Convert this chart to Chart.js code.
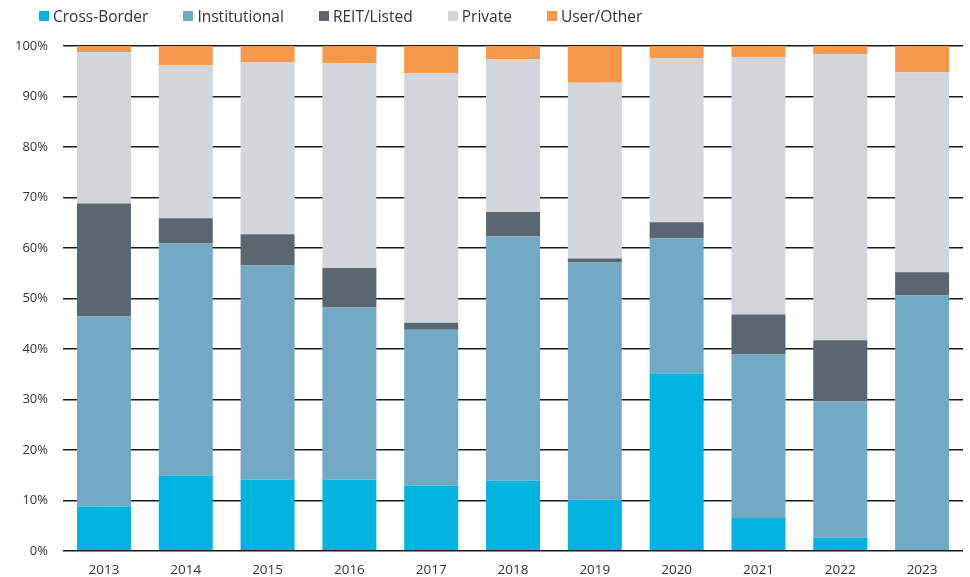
<!DOCTYPE html>
<html>
<head>
<meta charset="utf-8">
<script src="https://cdn.jsdelivr.net/npm/chart.js@4/dist/chart.umd.min.js"></script>
<style>
  html, body { margin: 0; padding: 0; background: #fff; }
  #wrap { position: relative; width: 970px; height: 577px; overflow: hidden; font-family: "Open Sans", sans-serif; }
  #legend { position: absolute; left: 39px; top: 5px; display: flex; align-items: center; font-size: 15.5px; color: #333; }
  #legend .item { display: flex; align-items: center; margin-right: 35px; }
  #legend .box { width: 10px; height: 10px; margin-right: 4px; }
  #chartBox { position: absolute; left: 0; top: 0; width: 970px; height: 581px; }
</style>
</head>
<body>
<div id="wrap">
  <div id="chartBox"><canvas id="buyerChart"></canvas></div>
  <div id="legend"></div>
</div>
<script>
const years = ['2013', '2014', '2015', '2016', '2017', '2018', '2019', '2020', '2021', '2022', '2023'];

// share of volume by buyer type, %
const crossBorder   = [8.8, 14.9, 14.1, 14.1, 12.9, 13.9, 10.1, 35.1, 6.5, 2.6, 0];
const institutional = [37.6, 46.0, 42.4, 34.1, 30.9, 48.4, 47.0, 26.8, 32.4, 27.0, 50.6];
const reitListed    = [22.4, 5.0, 6.2, 7.8, 1.4, 4.8, 0.8, 3.2, 7.9, 12.1, 4.6];
const privateBuyers = [30.0, 30.3, 34.1, 40.6, 49.4, 30.3, 34.8, 32.5, 51.0, 56.7, 39.6];
const userOther     = [1.2, 3.8, 3.2, 3.4, 5.4, 2.6, 7.3, 2.4, 2.2, 1.6, 5.2];

const seriesNames  = ['Cross-Border', 'Institutional', 'REIT/Listed', 'Private', 'User/Other'];
const seriesColors = ['#00b4e0', '#72aac6', '#5a6670', '#d2d6da', '#f7984a'];
const seriesData   = [crossBorder, institutional, reitListed, privateBuyers, userOther];

const yTicks = [0, 10, 20, 30, 40, 50, 60, 70, 80, 90, 100];

function buildLegend() {
    const el = document.getElementById('legend');
    seriesNames.forEach((name, i) => {
        const item = document.createElement('div');
        item.className = 'item';
        item.innerHTML = `<span class="box" style="background:${seriesColors[i]}"></span><span>${name}</span>`;
        el.appendChild(item);
    });
}

function createChart() {
    const ctx = document.getElementById('buyerChart').getContext('2d');
    new Chart(ctx, {
        type: 'bar',
        data: {
            labels: years,
            datasets: seriesData.map((vals, i) => ({
                label: seriesNames[i],
                data: vals,
                backgroundColor: seriesColors[i],
                borderWidth: 0,
                barPercentage: 0.66,
                categoryPercentage: 1.0
            }))
        },
        options: {
            responsive: true,
            maintainAspectRatio: false,
            animation: false,
            layout: { padding: { top: 46, left: 0, right: 7, bottom: 0 } },
            scales: {
                x: {
                    stacked: true,
                    grid: { display: false },
                    border: { display: false },
                    ticks: { color: '#333', font: { family: 'Open Sans', size: 13.5 }, padding: 3 }
                },
                y: {
                    stacked: true,
                    min: 0,
                    max: 100,
                    afterBuildTicks: axis => { axis.ticks = yTicks.map(v => ({ value: v })); },
                    grid: { color: '#1a1a1a', lineWidth: 1.4, drawTicks: false },
                    border: { display: false },
                    ticks: {
                        color: '#333',
                        font: { family: 'Open Sans', size: 13 },
                        padding: 15,
                        callback: v => v + '%'
                    }
                }
            },
            plugins: {
                legend: { display: false },
                tooltip: { enabled: false },
                title: { display: false }
            }
        }
    });
}

buildLegend();
createChart();
</script>
</body>
</html>
